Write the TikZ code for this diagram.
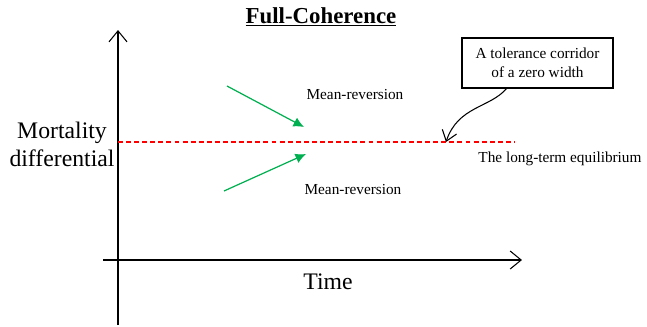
\documentclass[tikz,border=0pt]{standalone}
\usepackage{fontspec}
\setmainfont{Liberation Serif}
\usetikzlibrary{arrows.meta}
\definecolor{mrgreen}{RGB}{0,176,80}
\tikzset{
  axis/.style={line width=0.6pt, -{Straight Barb[length=2.2mm,width=3.6mm]}},
  revarrow/.style={mrgreen, line width=0.7pt, -{Latex[length=2.1mm,width=2mm]}},
  smalltext/.style={font=\fontsize{8.7}{10.8}\selectfont},
  bigtext/.style={font=\fontsize{13.5}{16}\selectfont}
}
\begin{document}
\begin{tikzpicture}[x=0.02cm, y=-0.02cm]
\useasboundingbox (0,0) rectangle (647,326);
% Title
\node[font=\fontsize{13}{15}\selectfont\bfseries] (title) at (321,17) {\underline{Full-Coherence}};

% Axes
\coordinate (ybot) at (118,325);
\coordinate (ytop) at (118,30);
\coordinate (xleft) at (103,260);
\coordinate (xright) at (522,260);
\draw[axis] (ybot) -- (ytop);
\draw[axis] (xleft) -- (xright);
\node[bigtext, align=center] (ylabel) at (62,144) {Mortality\\differential};
\node[bigtext] (xlabel) at (328,282) {Time};

% Equilibrium line
\coordinate (eqstart) at (118,142);
\coordinate (eqend) at (515,142);
\draw[red, line width=0.7pt, dash pattern=on 2.8pt off 1.8pt] (eqstart) -- (eqend);
\node[smalltext] (eqlabel) at (560,159) {The long-term equilibrium};

% Tolerance corridor callout
\node[draw, line width=0.6pt, smalltext, align=center, minimum width=3.02cm, minimum height=1cm] (corridor) at (537.5,63) {A tolerance corridor\\of a zero width};
\coordinate (hit) at (446,142);
\draw[line width=0.6pt, -{Straight Barb[length=2mm,width=3mm]}] ([xshift=-0.62cm]corridor.south) .. controls (490,108) and (458,106) .. (hit);

% Mean-reversion arrows
\coordinate (upstart) at (227,86);
\coordinate (uptip) at (304,127);
\coordinate (downstart) at (224,191);
\coordinate (downtip) at (306,154);
\draw[revarrow] (upstart) -- (uptip);
\draw[revarrow] (downstart) -- (downtip);
\node[smalltext] (mrup) at (355,95) {Mean-reversion};
\node[smalltext] (mrdown) at (353,190) {Mean-reversion};
\end{tikzpicture}
\end{document}
